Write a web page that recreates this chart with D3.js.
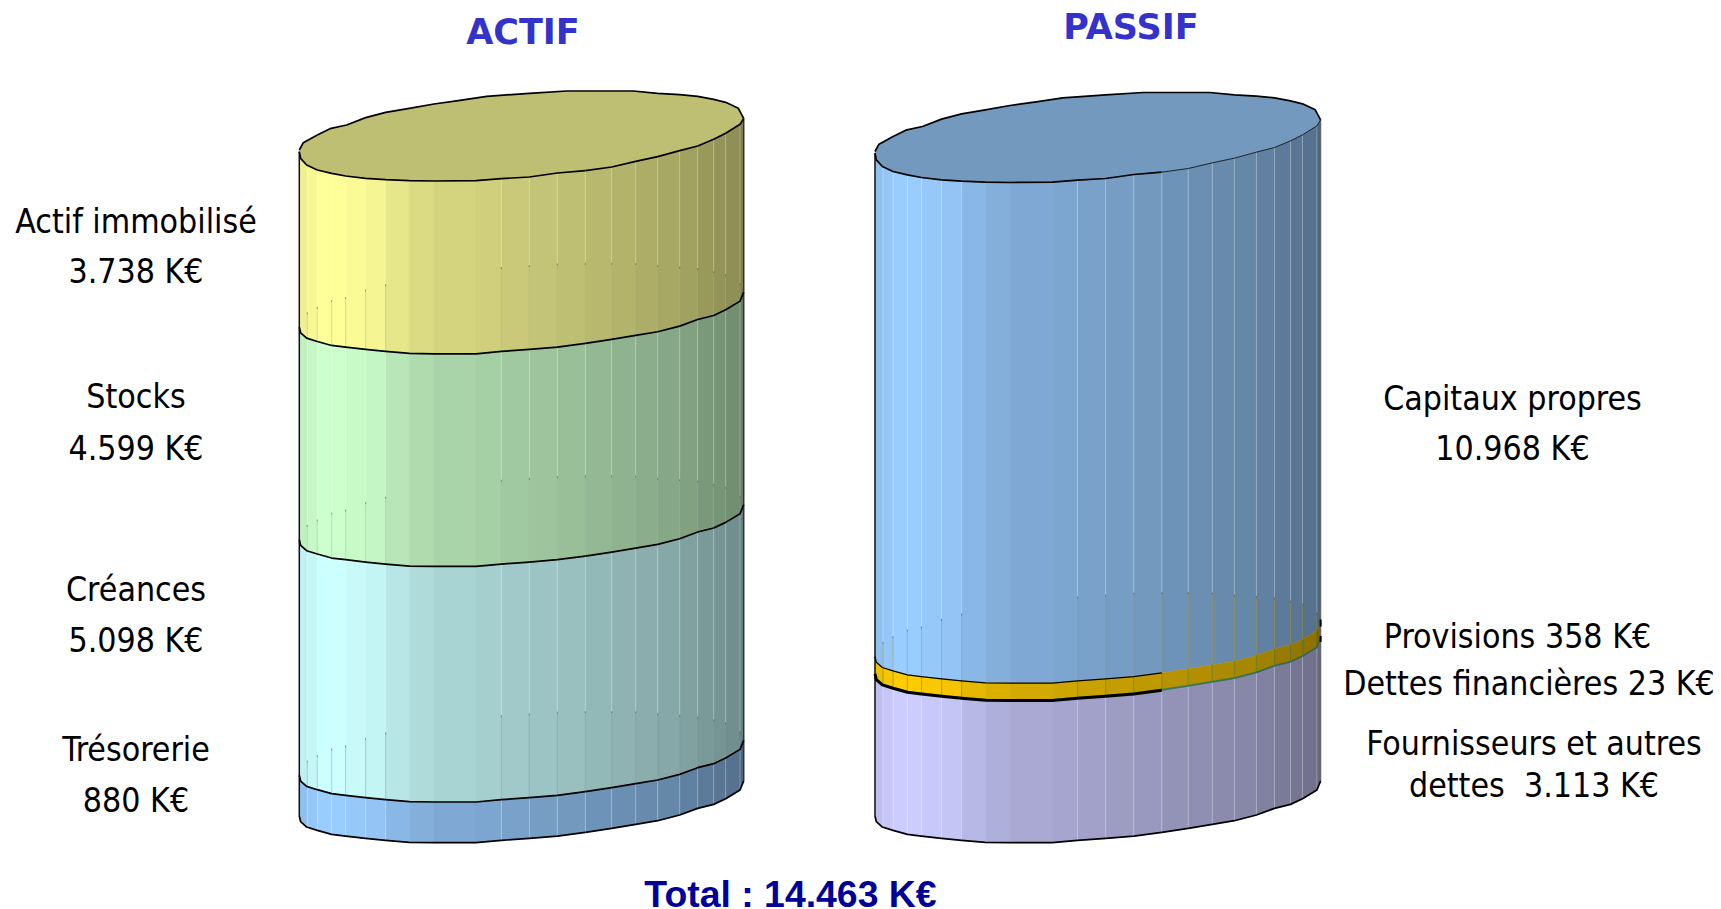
<!DOCTYPE html>
<html><head><meta charset="utf-8">
<script src="https://cdn.jsdelivr.net/npm/d3@7"></script>
<style>html,body{margin:0;padding:0;background:#fff;overflow:hidden}svg{display:block}</style>
</head><body><svg id="c" width="1721" height="909"></svg>
<script>
// ---- data ----
const actifNames  = ["Actif immobilisé", "Stocks", "Créances", "Trésorerie"];
const actifValues = [3738, 4599, 5098, 880];
const actifColors = ["#FFFF99", "#CCFFCC", "#CCFFFF", "#99CCFF"];
const passifNames  = ["Capitaux propres", "Provisions", "Dettes financières", "Fournisseurs et autres dettes"];
const passifValues = [10968, 358, 23, 3113];
const passifColors = ["#99CCFF", "#FFCC00", "#339966", "#CCCCFF"];
const actifTitle = "ACTIF", passifTitle = "PASSIF", totalLabel = "Total : 14.463 K€";

// ---- facetted cylinder profile, in abstract profile units ----
const frontU = [58,62,80,112,155,197,257,317,388,462,588,664,748,832,916,995,1067,1133,1199,1253,1301,1337,1380,1391];
const frontV = [245,265,285,300,310,318,325,329,332,333,332,326,321,309,302,291,274,260,242,228,208,190,163,145];
const lowerV = [253,270,286,296,308,313,320,326,332,333,333,326,320,313,302,290,278,267,250,230,218,201,175,148];
const backU  = [58,70,112,150,200,257,317,388,462,540,620,748,860,1060,1133,1199,1253,1301,1337,1375,1391];
const backV  = [240,218,195,176,165,143,127,115,102,91,79,70,63,63,70,74,79,88,97,115,145];
const facetU = [58,82,112,155,197,257,317,388,462,588,664,748,832,916,995,1067,1133,1199,1253,1301,1337,1380,1391];
const facetShade = [.94,.97,1,1,.98,.96,.90,.86,.83,.81,.79,.77,.75,.72,.70,.68,.66,.63,.60,.58,.56,.50];
const plainFacets = [388,462,588];   // facet borders without a visible seam
const capShade = .75;

const svg = d3.select("#c");
const FONT = "'DejaVu Sans Condensed','DejaVu Sans',sans-serif";
const FONTB = "'DejaVu Sans',sans-serif";

const frontAt = d3.scaleLinear().domain(frontU).range(frontV);
const lowerAt = d3.scaleLinear().domain(frontU).range(lowerV);
const backAt  = d3.scaleLinear().domain(backU).range(backV);

function shadeColor(c, k){
  const r = d3.rgb(c);
  return d3.rgb(r.r*k, r.g*k, r.b*k).formatHex();
}

function drawCylinder(cfg){
  const g = svg.append("g");
  const xS = d3.scaleLinear().domain([58,1391]).range(cfg.xRange);
  const vS = d3.scaleLinear().domain([0,3]).range([cfg.yTop, cfg.yTop+1]);
  const cum = d3.cumsum(cfg.values);
  const total = cum[cum.length-1];
  const depth = d3.scaleLinear().domain([0,total]).range([0,cfg.height]);
  const starts = [0, ...cum];
  const edgeV = (u,val)=> val===0 ? frontAt(u) : lowerAt(u);
  const px = (u,val)=>[xS(u), vS(edgeV(u,val))+depth(val)];
  const backY = (u,val)=>vS(backAt(u))+depth(val);
  const line = d3.line();

  cfg.values.forEach((val,si)=>{
    const a = starts[si], b = starts[si+1];
    const sg = g.append("g");
    const facets = d3.pairs(facetU).map((p,i)=>({u0:p[0],u1:p[1],k:facetShade[i]}));
    sg.selectAll("path").data(facets).join("path")
      .attr("d",f=>{
        const us = frontU.filter(u=>u>=f.u0&&u<=f.u1);
        if(us[0]!==f.u0) us.unshift(f.u0);
        if(us[us.length-1]!==f.u1) us.push(f.u1);
        const top = us.map(u=>px(u,a));
        const bot = us.slice().reverse().map(u=>px(u,b));
        return line([...top,...bot])+"Z";
      })
      .attr("fill",f=>shadeColor(cfg.colors[si],f.k))
      .attr("stroke",f=>shadeColor(cfg.colors[si],f.k))
      .attr("stroke-width",.5);

    // seams: light down to the hidden back rim of the next stack, tinted by that stack below it
    const seamU = facetU.slice(1,-1).filter(u=>!plainFacets.includes(u));
    const next = cfg.colors[si+1];
    const split = u=> next ? Math.max(px(u,a)[1], Math.min(backY(u,b), px(u,b)[1])) : px(u,b)[1];
    sg.selectAll("line.up").data(seamU).join("line").attr("class","up")
      .attr("x1",u=>xS(u)).attr("x2",u=>xS(u))
      .attr("y1",u=>px(u,a)[1]).attr("y2",split)
      .attr("stroke","#fff").attr("stroke-opacity",.3).attr("stroke-width",1);
    if(next){
      sg.selectAll("line.low").data(seamU).join("line").attr("class","low")
        .attr("x1",u=>xS(u)).attr("x2",u=>xS(u))
        .attr("y1",split).attr("y2",u=>px(u,b)[1])
        .attr("stroke",shadeColor(next,.7)).attr("stroke-opacity",.4).attr("stroke-width",1);
      sg.selectAll("line.tick").data(seamU.filter(u=>split(u)<px(u,b)[1]-4 && split(u)>px(u,a)[1]+4)).join("line").attr("class","tick")
        .attr("x1",u=>xS(u)).attr("x2",u=>xS(u))
        .attr("y1",u=>split(u)-1).attr("y2",u=>split(u)+1)
        .attr("stroke","#333").attr("stroke-opacity",.45).attr("stroke-width",1);
    }
  });

  // top cap
  const capPts = [...backU.map(u=>[xS(u),backY(u,0)]), ...frontU.slice().reverse().map(u=>px(u,0))];
  g.append("path").attr("d",line(capPts)+"Z").attr("fill",shadeColor(cfg.colors[0],capShade));

  // outlines
  const stroke = (pts,w,c)=>g.append("path").attr("d",line(pts)).attr("fill","none")
    .attr("stroke",c).attr("stroke-width",w).attr("stroke-linejoin","round");
  stroke(backU.map(u=>[xS(u),backY(u,0)]),1.7,"#000");
  stroke([px(58,0),px(58,total)],1.5,"#111");
  stroke([px(1391,0),px(1391,total)],cfg.rightEdge[0],cfg.rightEdge[1]);
  starts.forEach((val,i)=>{
    const e = cfg.edges[i];
    const left = frontU.filter(u=>u<=cfg.splitU), right = frontU.filter(u=>u>=cfg.splitU);
    if(e.lw) stroke(left.map(u=>px(u,val)),e.lw,"#000");
    if(e.rw) stroke(right.map(u=>px(u,val)),e.rw,e.rc||"#000");
    if(e.tick){ const p = px(1391,val); stroke([[p[0],p[1]+e.tick[0]],[p[0],p[1]+e.tick[1]]],2,"#000"); }
  });
}

drawCylinder({values:actifValues,colors:actifColors,xRange:[299.3,743.7],yTop:70,height:661.7,
  splitU:916,rightEdge:[1.5,"#333"],
  edges:[{lw:1.7,rw:1.7},{lw:1.7,rw:1.7},{lw:1.7,rw:1.7},{lw:1.7,rw:1.7},{lw:1.7,rw:1.7}]});
drawCylinder({values:passifValues,colors:passifColors,xRange:[875,1320.6],yTop:71.5,height:660.2,
  splitU:916,rightEdge:[1.2,"#666"],
  edges:[{lw:1.7,rw:.8},{lw:1.2,rw:0,tick:[-2,5]},{lw:0,rw:0},{lw:3,rw:.8,rc:"#1f6b4a",tick:[-3,3]},{lw:1.7,rw:1.7}]});

// ---- text ----
const labels = [
  ["Actif immobilisé",136,232.5],["3.738 K€",136,282.5],
  ["Stocks",136,408],["4.599 K€",136,459.5],
  ["Créances",136,600.5],["5.098 K€",136,651.5],
  ["Trésorerie",136,760.5],["880 K€",136,811.5],
  ["Capitaux propres",1512.5,410],["10.968 K€",1512.5,460],
  ["Provisions 358 K€",1517.5,648],["Dettes financières 23 K€",1529,695],
  ["Fournisseurs et autres",1534,755],["dettes  3.113 K€",1534,797]
];
svg.append("g").selectAll("text").data(labels).join("text")
  .attr("x",d=>d[1]).attr("y",d=>d[2]).text(d=>d[0])
  .attr("text-anchor","middle").attr("font-family",FONT).attr("font-size",33.6)
  .attr("fill","#000").style("white-space","pre");
svg.append("text").attr("x",523).attr("y",44).attr("text-anchor","middle").text(actifTitle)
  .attr("font-family",FONTB).attr("font-weight",700).attr("font-size",35).attr("fill","#3333CC");
svg.append("text").attr("x",1131).attr("y",38.5).attr("text-anchor","middle").text(passifTitle)
  .attr("font-family",FONTB).attr("font-weight",700).attr("font-size",35).attr("fill","#3333CC");
svg.append("text").attr("x",790.5).attr("y",907).attr("text-anchor","middle").text(totalLabel)
  .attr("font-family","'Liberation Sans',Arial,sans-serif").attr("font-weight",700).attr("font-size",37.4).attr("fill","#000099");
</script></body></html>
